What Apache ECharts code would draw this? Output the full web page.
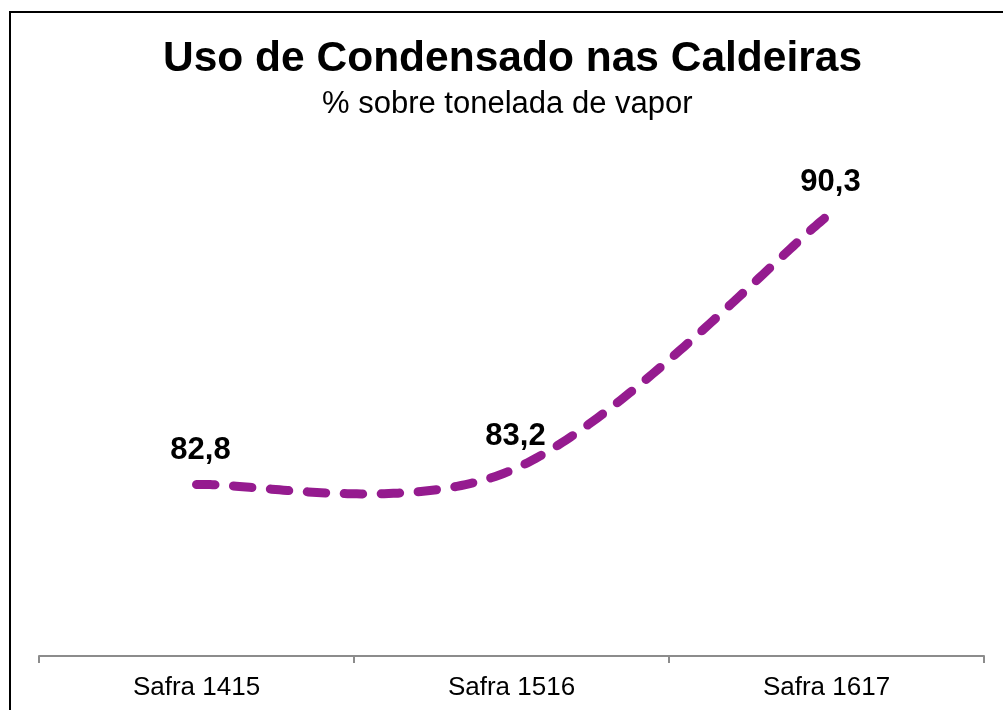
<!DOCTYPE html>
<html>
<head>
<meta charset="utf-8">
<script src="https://cdn.jsdelivr.net/npm/echarts@6/dist/echarts.min.js"></script>
<style>html,body{margin:0;padding:0;background:#fff;}#c{width:1003px;height:710px;}</style>
</head>
<body>
<div id="c"></div>
<script>
const categories = ['Safra 1415', 'Safra 1516', 'Safra 1617'];
const values = [82.8, 83.2, 90.3];
const titleText = 'Uso de Condensado nas Caldeiras';
const subtitleText = '% sobre tonelada de vapor';

const FONT = '"Liberation Sans", Arial, sans-serif';
const LINE_COLOR = '#951B8F';

// Excel-style smoothed line: cubic Bezier with tangents (p[i+1]-p[i-1])/6
function smoothPoints(pts) {
  const out = [];
  const n = pts.length;
  for (let i = 0; i < n - 1; i++) {
    const p0 = pts[i], p3 = pts[i + 1];
    const prev = i > 0 ? pts[i - 1] : p0;
    const next = i + 2 < n ? pts[i + 2] : p3;
    const c1 = [p0[0] + (p3[0] - prev[0]) / 6, p0[1] + (p3[1] - prev[1]) / 6];
    const c2 = [p3[0] - (next[0] - p0[0]) / 6, p3[1] - (next[1] - p0[1]) / 6];
    const steps = 80;
    for (let s = (i === 0 ? 0 : 1); s <= steps; s++) {
      const t = s / steps, u = 1 - t;
      const a = u * u * u, b = 3 * u * u * t, c = 3 * u * t * t, d = t * t * t;
      out.push([a * p0[0] + b * c1[0] + c * c2[0] + d * p3[0],
                a * p0[1] + b * c1[1] + c * c2[1] + d * p3[1]]);
    }
  }
  return out;
}

const chart = echarts.init(document.getElementById('c'), null, {renderer: 'canvas'});
chart.setOption({
  animation: false,
  backgroundColor: '#fff',
  title: [
    {text: titleText, left: 158, top: 33,
     textStyle: {fontFamily: FONT, fontSize: 42.5, fontWeight: 'bold', color: '#000'}},
    {text: subtitleText, left: 317, top: 84,
     textStyle: {fontFamily: FONT, fontSize: 31, fontWeight: 'normal', color: '#000'}}
  ],
  graphic: [{
    type: 'rect', shape: {x: 10, y: 12, width: 1100, height: 800},
    style: {fill: 'none', stroke: '#000', lineWidth: 2}, silent: true
  }],
  grid: {left: 39, right: 19, top: 156, bottom: 54, containLabel: false},
  xAxis: {
    type: 'category', data: categories, boundaryGap: true,
    axisLine: {lineStyle: {color: '#8c8c8c', width: 2}},
    axisTick: {show: true, length: 7, inside: false, lineStyle: {color: '#8c8c8c', width: 2}},
    axisLabel: {margin: 19, fontFamily: FONT, fontSize: 26, color: '#000'},
    splitLine: {show: false}
  },
  yAxis: {
    type: 'value', min: 78, max: 92, show: false, splitLine: {show: false}
  },
  series: [
    {
      type: 'custom',
      data: [0],
      silent: true,
      z: 2,
      renderItem: function (params, api) {
        const pts = values.map((v, i) => api.coord([i, v]));
        return {
          type: 'polyline',
          shape: {points: smoothPoints(pts)},
          style: {fill: 'none', stroke: LINE_COLOR, lineWidth: 9,
                  lineDash: [18.5, 18.5], lineCap: 'round', lineJoin: 'round'}
        };
      }
    },
    {
      type: 'line', data: values, smooth: false, showSymbol: true,
      symbol: 'circle', symbolSize: 1,
      itemStyle: {color: 'rgba(0,0,0,0)'},
      lineStyle: {opacity: 0, width: 0},
      z: 3,
      label: {
        show: true, position: 'top', distance: 18, offset: [4, 0],
        fontFamily: FONT, fontSize: 31, fontWeight: 'bold', color: '#000',
        formatter: p => String(p.value).replace('.', ',')
      }
    }
  ]
});
</script>
</body>
</html>
